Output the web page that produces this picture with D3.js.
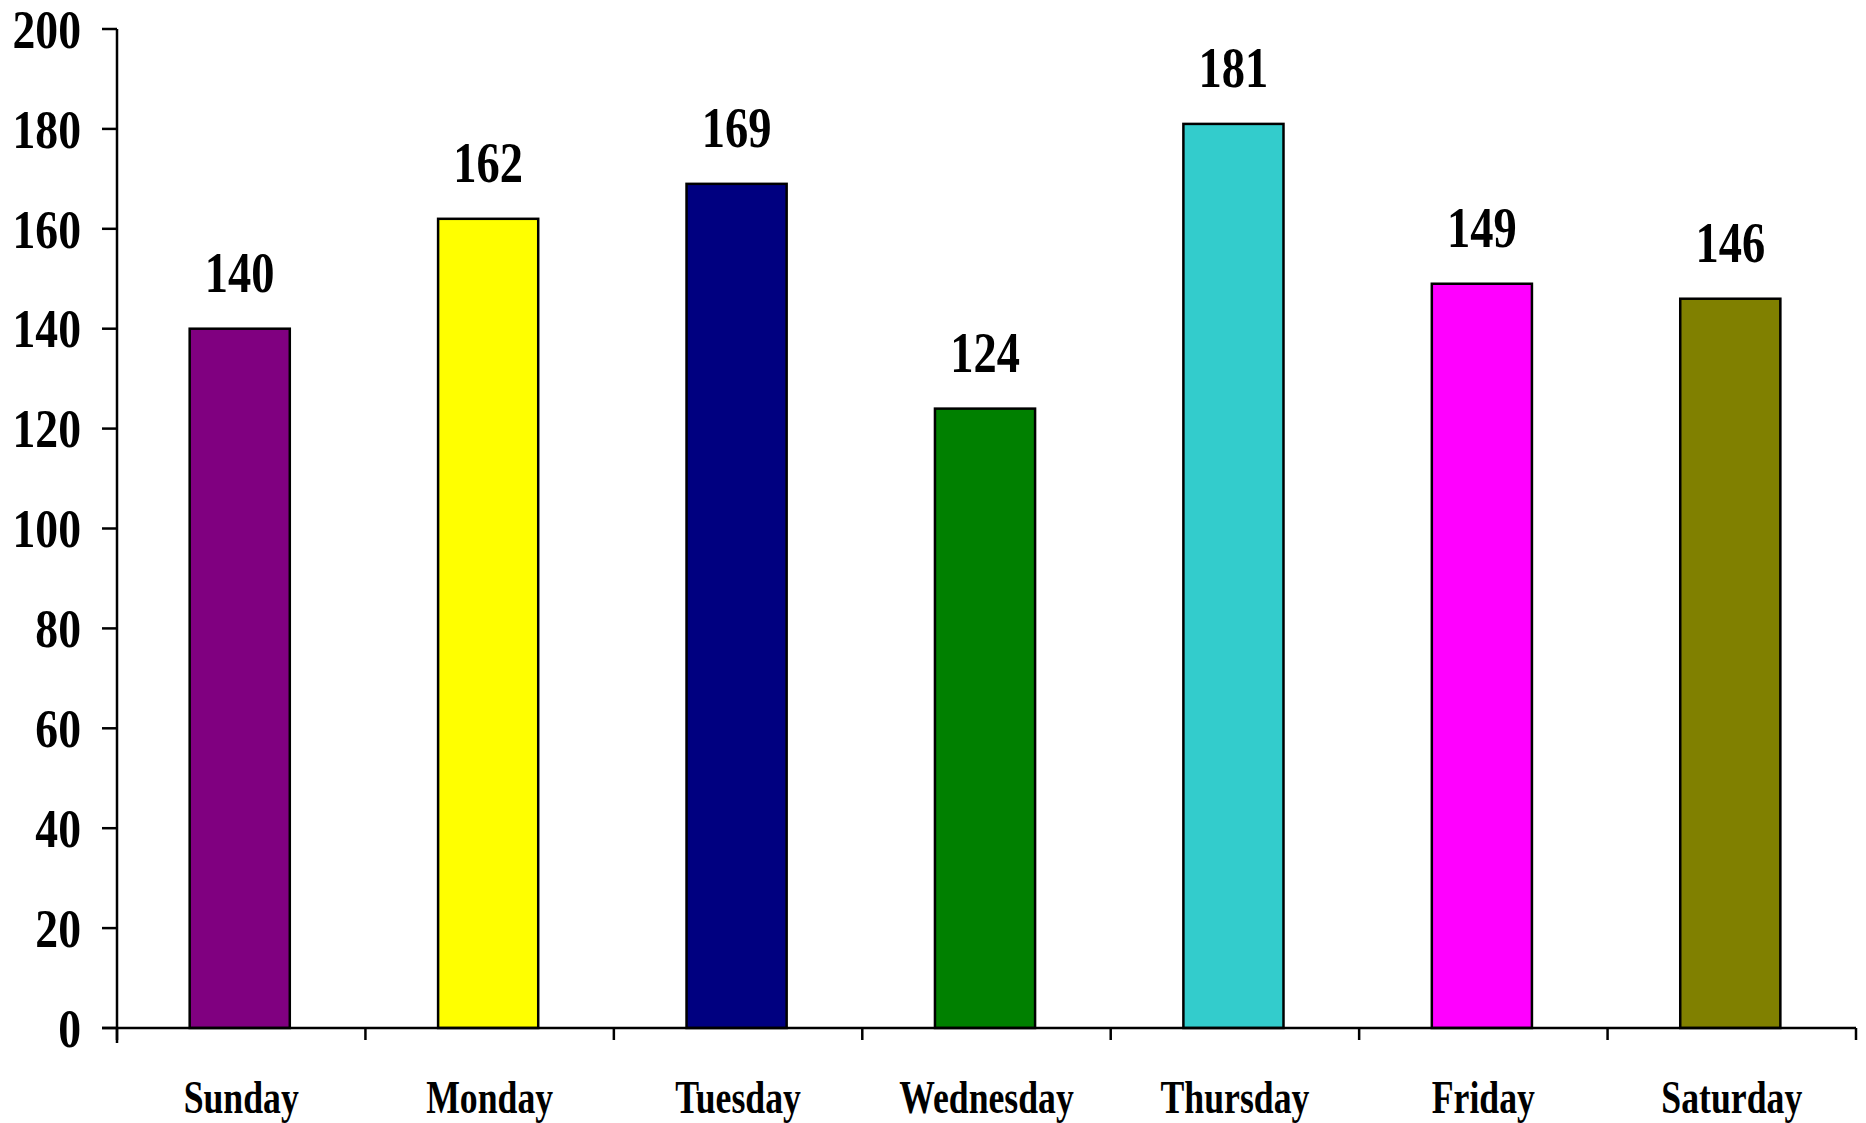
<!DOCTYPE html>
<html>
<head>
<meta charset="utf-8">
<script src="https://cdn.jsdelivr.net/npm/d3@7"></script>
<style>
  body { margin: 0; background: white; }
  text { font-family: "Liberation Serif", "Times New Roman", serif; font-weight: bold; fill: black; }
</style>
</head>
<body>
<div id="chart"></div>
<script>
// Daten
var days = ["Sunday", "Monday", "Tuesday", "Wednesday", "Thursday", "Friday", "Saturday"];
var counts = [140, 162, 169, 124, 181, 149, 146];
var barColors = ["#800080", "#FFFF00", "#000080", "#008000", "#33CCCC", "#FF00FF", "#808000"];
var yTicks = [0, 20, 40, 60, 80, 100, 120, 140, 160, 180, 200];

var W = 1866, H = 1123;
var margin = {top: 29, right: 10, bottom: 95, left: 117};
var width = W - margin.left - margin.right,
    height = H - margin.top - margin.bottom;

var svg = d3.select("#chart").append("svg")
    .attr("width", W)
    .attr("height", H)
    .append("g")
    .attr("transform", "translate(" + margin.left + "," + margin.top + ")");

var x = d3.scaleBand()
    .domain(days)
    .range([0, width])
    .paddingInner(0.597)
    .paddingOuter(0.2985)
    .align(0.49);

var y = d3.scaleLinear()
    .domain([0, 200])
    .range([height, 0]);

// Balken
svg.selectAll("rect.bar")
    .data(counts)
    .enter()
    .append("rect")
    .attr("class", "bar")
    .attr("x", (d, i) => x(days[i]))
    .attr("y", d => y(d))
    .attr("width", x.bandwidth())
    .attr("height", d => height - y(d))
    .style("fill", (d, i) => barColors[i])
    .style("stroke", "black")
    .style("stroke-width", 2.5);

// Werte über den Balken (Schrift horizontal gestaucht wie im Original)
svg.selectAll("text.value")
    .data(counts)
    .enter()
    .append("text")
    .attr("class", "value")
    .attr("transform", (d, i) => "translate(" + (x(days[i]) + x.bandwidth() / 2) + "," + (y(d) - 37) + ") scale(0.83,1)")
    .style("text-anchor", "middle")
    .style("font-size", "56px")
    .text(d => d);

// Y-Achse
var yAxis = svg.append("g");
yAxis.append("line")
    .attr("x1", 0).attr("x2", 0)
    .attr("y1", y(200)).attr("y2", height + 15)
    .style("stroke", "black").style("stroke-width", 2.5);
yAxis.selectAll("line.tick")
    .data(yTicks)
    .enter()
    .append("line")
    .attr("class", "tick")
    .attr("x1", -15).attr("x2", 0)
    .attr("y1", d => y(d)).attr("y2", d => y(d))
    .style("stroke", "black").style("stroke-width", 2.5);
yAxis.selectAll("text")
    .data(yTicks)
    .enter()
    .append("text")
    .attr("transform", d => "translate(-36," + y(d) + ") scale(0.83,1)")
    .attr("dy", "0.34em")
    .style("text-anchor", "end")
    .style("font-size", "55px")
    .text(d => d);

// X-Achse
var xAxis = svg.append("g").attr("transform", "translate(0," + height + ")");
xAxis.append("line")
    .attr("x1", -15).attr("x2", width)
    .style("stroke", "black").style("stroke-width", 2.5);
var bounds = d3.range(days.length + 1).map(i => i * x.step());
xAxis.selectAll("line.tick")
    .data(bounds)
    .enter()
    .append("line")
    .attr("class", "tick")
    .attr("x1", d => d).attr("x2", d => d)
    .attr("y1", 0).attr("y2", 12)
    .style("stroke", "black").style("stroke-width", 2.5);
xAxis.selectAll("text")
    .data(days)
    .enter()
    .append("text")
    .attr("transform", (d, i) => "translate(" + (bounds[i] + x.step() / 2) + ",85) scale(0.76,1)")
    .style("text-anchor", "middle")
    .style("font-size", "47px")
    .text(d => d);
</script>
</body>
</html>
